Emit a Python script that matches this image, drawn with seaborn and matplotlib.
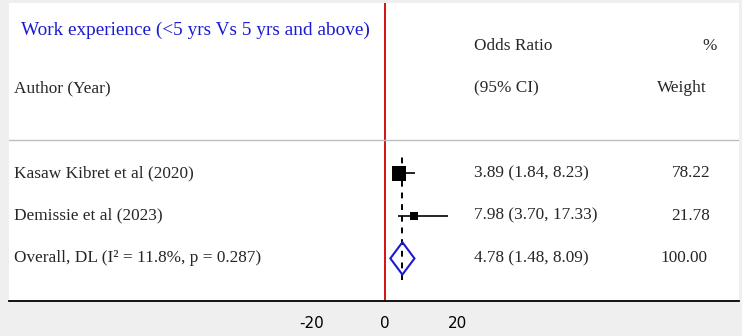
import matplotlib
matplotlib.use("Agg")
import matplotlib.pyplot as plt
import matplotlib.transforms as mtransforms
import seaborn as sns
import pandas as pd

# study level data
studies = ["Kasaw Kibret et al (2020)", "Demissie et al (2023)"]
odds = [3.89, 7.98]
lower = [1.84, 3.70]
upper = [8.23, 17.33]
weights = [78.22, 21.78]

# pooled estimate
overall_or = 4.78
overall_lo = 1.48
overall_hi = 8.09
overall_weight = 100.00
i2 = 11.8
p_het = 0.287

title = "Work experience (<5 yrs Vs 5 yrs and above)"
xticks = [-20, 0, 20]

df = pd.DataFrame({"study": studies, "or": odds, "lo": lower, "hi": upper,
                   "weight": weights, "y": [3, 2]})

sns.set_theme(style="white")
plt.rcParams["font.family"] = ["Liberation Serif", "DejaVu Serif"]

fig = plt.figure(figsize=(7.42, 3.36), dpi=100, facecolor="#efefef")
ax = fig.add_axes([9 / 742, 35 / 336, 730 / 742, 298 / 336])
ax.set_facecolor("white")

# null line and pooled estimate line
ax.axvline(0, color="#d00000", lw=1.3, zorder=1)
ax.plot([overall_or, overall_or], [0.5, 3.5], color="black", lw=1.4,
        ls=(0, (3, 3)), zorder=2)

# confidence intervals
ax.hlines(df["y"], df["lo"], df["hi"], color="black", lw=1.2, zorder=3)
sns.scatterplot(data=df, x="or", y="y", size="weight", sizes=(38, 112),
                size_norm=(min(weights), max(weights)), marker="s",
                color="black", linewidth=0, legend=False, ax=ax, zorder=4)

# pooled diamond
h = 0.38
ax.fill([overall_lo, overall_or, overall_hi, overall_or, overall_lo],
        [1, 1 + h, 1, 1 - h, 1], facecolor="none", edgecolor="#1a1ad0",
        lw=1.5, zorder=5)

# separator line under the header
ax.axhline(3.78, color="#bdbdbd", lw=1.0, zorder=1)

ax.set_xlim(-103, 97)
ax.set_ylim(0, 7)
ax.set_xticks(xticks)
ax.set_xticklabels([str(t) for t in xticks], family="DejaVu Sans", fontsize=11)
ax.set_yticks([])
ax.set_xlabel("")
ax.set_ylabel("")
for s in ["left", "right", "top"]:
    ax.spines[s].set_visible(False)
ax.spines["bottom"].set_color("black")
ax.spines["bottom"].set_linewidth(1.3)
ax.tick_params(axis="x", direction="out", length=5, width=1.1,
               color="black", pad=6, colors="black")

tr = mtransforms.blended_transform_factory(ax.transAxes, ax.transData)
fs = 12.4
x_name = 5 / 730
x_or = 465 / 730
x_w = 701 / 730

ax.text(12 / 730, 6.36, title, transform=tr, color="#1a1ad0",
        fontsize=13.85, va="center", ha="left")
ax.text(x_or, 6.0, "Odds Ratio", transform=tr, fontsize=fs, va="center")
ax.text(708 / 730, 6.0, "%", transform=tr, fontsize=fs, va="center", ha="right")
ax.text(x_name, 5.0, "Author (Year)", transform=tr, fontsize=fs, va="center")
ax.text(x_or, 5.0, "(95% CI)", transform=tr, fontsize=fs, va="center")
ax.text(698 / 730, 5.0, "Weight", transform=tr, fontsize=fs, va="center",
        ha="right")

for _, r in df.iterrows():
    ax.text(x_name, r["y"], r["study"], transform=tr, fontsize=fs, va="center")
    ax.text(x_or, r["y"], f"{r['or']:.2f} ({r['lo']:.2f}, {r['hi']:.2f})",
            transform=tr, fontsize=fs, va="center")
    ax.text(x_w, r["y"], f"{r['weight']:.2f}", transform=tr, fontsize=fs,
            va="center", ha="right")

ax.text(x_name, 1, f"Overall, DL (I\u00b2 = {i2}%, p = {p_het})", transform=tr,
        fontsize=fs, va="center")
ax.text(x_or, 1, f"{overall_or:.2f} ({overall_lo:.2f}, {overall_hi:.2f})",
        transform=tr, fontsize=fs, va="center")
ax.text(698 / 730, 1, f"{overall_weight:.2f}", transform=tr, fontsize=fs,
        va="center", ha="right")

fig.savefig("out.png", dpi=100, facecolor=fig.get_facecolor())
